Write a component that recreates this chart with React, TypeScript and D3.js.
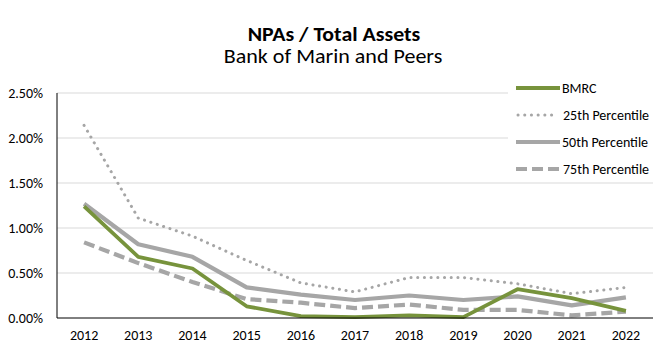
import React, { useEffect, useRef } from 'react';
import * as d3 from 'd3';

const years = ['2012', '2013', '2014', '2015', '2016', '2017', '2018', '2019', '2020', '2021', '2022'];
// values in percent
const bmrc = [1.24, 0.68, 0.55, 0.13, 0.02, 0.01, 0.03, 0.01, 0.32, 0.22, 0.08];
const p25 = [2.14, 1.11, 0.91, 0.64, 0.39, 0.29, 0.45, 0.45, 0.38, 0.27, 0.34];
const p50 = [1.27, 0.82, 0.68, 0.34, 0.26, 0.2, 0.25, 0.2, 0.24, 0.14, 0.23];
const p75 = [0.84, 0.61, 0.4, 0.21, 0.17, 0.11, 0.15, 0.09, 0.09, 0.03, 0.07];
const yTicks = [0, 0.5, 1, 1.5, 2, 2.5];

const seriesNames = ['BMRC', '25th Percentile', '50th Percentile', '75th Percentile'];

interface Series {
  name: string;
  values: number[];
  color: string;
  width: number;
  dash: string | null;
  cap: string;
}

const W = 668;
const H = 353;
const FONT = 'Carlito, Calibri, "Open Sans", sans-serif';

export default function App() {
  const svgRef = useRef<SVGSVGElement>(null);

  useEffect(() => {
    if (!svgRef.current) return;
    const svg = d3.select(svgRef.current);
    svg.selectAll('*').remove();

    const margin = { top: 93, right: 15, bottom: 35, left: 57 };
    const innerW = W - margin.left - margin.right;
    const innerH = H - margin.top - margin.bottom;

    const series: Series[] = [
      { name: seriesNames[1], values: p25, color: '#A6A6A6', width: 3, dash: '0.1 6.6', cap: 'round' },
      { name: seriesNames[2], values: p50, color: '#A6A6A6', width: 4.2, dash: null, cap: 'butt' },
      { name: seriesNames[3], values: p75, color: '#A6A6A6', width: 4.2, dash: '11 5', cap: 'butt' },
      { name: seriesNames[0], values: bmrc, color: '#77933C', width: 3.8, dash: null, cap: 'butt' }
    ];

    svg.append('rect').attr('width', W).attr('height', H).attr('fill', '#fff');

    // titles (text in the picture runs a little wide, so stretch it a bit)
    svg.append('text')
      .attr('transform', 'translate(334,41) scale(1.12,1)')
      .attr('text-anchor', 'middle')
      .style('font-family', FONT)
      .style('font-size', '19.5px')
      .style('font-weight', 'bold')
      .text('NPAs / Total Assets');
    svg.append('text')
      .attr('transform', 'translate(333,63) scale(1.13,1)')
      .attr('text-anchor', 'middle')
      .style('font-family', FONT)
      .style('font-size', '19.5px')
      .text('Bank of Marin and Peers');

    const g = svg.append('g').attr('transform', `translate(${margin.left},${margin.top})`);

    const x = d3.scaleBand<string>().domain(years).range([0, innerW]);
    const y = d3.scaleLinear().domain([0, 2.5]).range([innerH, 0]);

    // gridlines
    g.append('g')
      .selectAll('line')
      .data(yTicks.slice(1))
      .enter().append('line')
      .attr('x1', 0).attr('x2', innerW)
      .attr('y1', d => y(d)).attr('y2', d => y(d))
      .attr('stroke', '#D9D9D9').attr('stroke-width', 1);

    // y axis labels
    const yAxis = g.append('g')
      .call(d3.axisLeft(y).tickValues(yTicks).tickSize(0).tickPadding(14)
        .tickFormat(d => d3.format('.2f')(d as number) + '%'));
    yAxis.select('.domain').remove();
    yAxis.selectAll('text')
      .style('font-family', FONT).style('font-size', '14px').attr('fill', '#000');

    // x axis
    const xAxis = g.append('g')
      .attr('transform', `translate(0,${innerH})`)
      .call(d3.axisBottom(x).tickSize(0).tickPadding(12));
    xAxis.select('.domain').remove();
    xAxis.selectAll('text')
      .style('font-family', FONT).style('font-size', '14px').attr('fill', '#000');

    const line = d3.line<number>()
      .x((_, i) => (x(years[i]) as number) + x.bandwidth() / 2)
      .y(d => y(d));

    series.forEach(s => {
      g.append('path')
        .datum(s.values)
        .attr('fill', 'none')
        .attr('stroke', s.color)
        .attr('stroke-width', s.width)
        .attr('stroke-dasharray', s.dash)
        .attr('stroke-linecap', s.cap)
        .attr('stroke-linejoin', 'round')
        .attr('d', line);
    });

    // axis lines
    g.append('line').attr('x1', 0).attr('x2', 0).attr('y1', 0).attr('y2', innerH)
      .attr('stroke', '#000').attr('stroke-width', 1);
    g.append('line').attr('x1', 0).attr('x2', innerW).attr('y1', innerH).attr('y2', innerH)
      .attr('stroke', '#000').attr('stroke-width', 1);

    // legend
    const legend = svg.append('g').attr('transform', 'translate(508,74)');
    legend.append('rect').attr('width', 160).attr('height', 104).attr('fill', '#fff');
    const order = [series[3], series[0], series[1], series[2]];
    order.forEach((s, i) => {
      const row = legend.append('g').attr('transform', `translate(0,${14 + i * 27})`);
      row.append('line')
        .attr('x1', i === 1 ? 10 : 8).attr('x2', i === 1 ? 46 : 52)
        .attr('stroke', s.color)
        .attr('stroke-width', s.width)
        .attr('stroke-dasharray', s.dash)
        .attr('stroke-linecap', s.cap);
      row.append('text')
        .attr('x', i === 0 || i === 2 ? 54 : 55).attr('y', 5)
        .style('font-family', FONT).style('font-size', '14px')
        .attr('fill', '#000')
        .text(s.name);
    });
  }, []);

  return <svg ref={svgRef} width={W} height={H} style={{ display: 'block', margin: '-8px' }} />;
}
